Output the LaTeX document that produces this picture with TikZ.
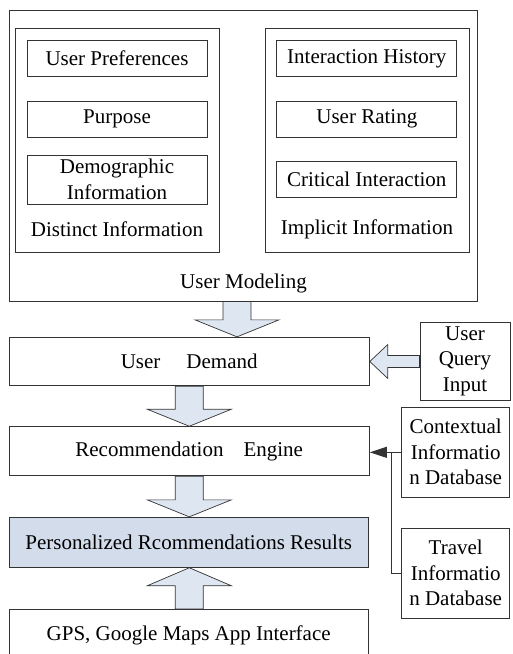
\documentclass[tikz,border=0pt]{standalone}
\usepackage{fontspec}
\setmainfont{Liberation Serif}
\usetikzlibrary{calc,arrows.meta}
\definecolor{linec}{HTML}{333333}
\definecolor{arrfill}{HTML}{DEE6F2}
\definecolor{resfill}{HTML}{D3DCEB}
\newcommand\blkdown[3]{%
  \path[blk] let \p1=(#1), \p2=(#2) in
   ({#3-14},\y1) -- ({#3+14},\y1) -- ({#3+14},\y2+17pt) -- ({#3+42},\y2+17pt)
   -- (#3,\y2) -- ({#3-42},\y2+17pt) -- ({#3-14},\y2+17pt) -- cycle;}
\newcommand\blkup[3]{%
  \path[blk] let \p1=(#1), \p2=(#2) in
   ({#3-14},\y1) -- ({#3+14},\y1) -- ({#3+14},\y2-18pt) -- ({#3+42},\y2-18pt)
   -- (#3,\y2) -- ({#3-42},\y2-18pt) -- ({#3-14},\y2-18pt) -- cycle;}
\newcommand\blkleft[2]{%
  \path[blk] let \p1=(#1), \p2=(#2) in
   (\x1,\y2+6pt) -- (\x2+18pt,\y2+6pt) -- (\x2+18pt,\y2+17pt) -- (\x2,\y2)
   -- (\x2+18pt,\y2-17pt) -- (\x2+18pt,\y2-6pt) -- (\x1,\y2-6pt) -- cycle;}
\begin{document}
\begin{tikzpicture}[x=1pt,y=-1pt,
  every node/.style={font=\fontsize{21}{25.5}\selectfont,inner sep=0pt},
  box/.style={draw=linec,line width=0.9pt,align=center},
  lbl/.style={align=center},
  blk/.style={draw=linec,line width=0.7pt,fill=arrfill},
  conn/.style={draw=linec,line width=0.9pt}]
\useasboundingbox (0,0) rectangle (513,654);
% user modeling
\node[box,minimum width=468.7pt,minimum height=291pt] (um) at (243.3,155.5) {};
\node[lbl] (uml) at (243.5,283) {User Modeling};
\node[box,minimum width=204pt,minimum height=224pt] (dist) at (117,140) {};
\node[lbl] (distl) at (117,229) {Distinct Information};
\node[box,minimum width=204pt,minimum height=224pt] (impl) at (367,140) {};
\node[lbl] (impll) at (367,229) {Implicit Information};
\node[box,minimum width=180pt,minimum height=36pt] (up) at (117,58.7) {User Preferences};
\node[box,minimum width=180pt,minimum height=36pt] (pur) at (117,119) {Purpose};
\node[box,minimum width=180pt,minimum height=49pt] (demo) at (117,179.5) {Demographic\\Information};
\node[box,minimum width=180pt,minimum height=36pt] (ih) at (366.8,58.7) {Interaction History};
\node[box,minimum width=180pt,minimum height=36pt] (ur) at (366.8,119) {User Rating};
\node[box,minimum width=180pt,minimum height=36pt] (ci) at (366.8,179.7) {Critical Interaction};
% main chain
\node[box,minimum width=360.3pt,minimum height=48.4pt] (ud) at (189.2,361.5) {User\hspace{26pt}Demand};
\node[box,minimum width=360.3pt,minimum height=49pt] (re) at (189.2,451.2) {Recommendation\hspace{20pt}Engine};
\node[box,fill=resfill,minimum width=359.3pt,minimum height=50pt] (pr) at (188.7,542.3) {Personalized Rcommendations Results};
\node[box,minimum width=359.3pt,minimum height=51.7pt] (gps) at (188.7,635.2) {GPS, Google Maps App Interface};
% right side
\node[box,minimum width=90pt,minimum height=77.7pt] (uqi) at (465,361.2) {User\\Query\\Input};
\node[box,minimum width=108pt,minimum height=90pt] (ctx) at (455.7,452.3) {Contextual\\Informatio\\n Database};
\node[box,minimum width=108pt,minimum height=90pt] (trv) at (455.7,573.3) {Travel\\Informatio\\n Database};
% block arrows
\blkdown{um.south}{ud.north}{237}
\blkdown{ud.south}{re.north}{189.3}
\blkdown{re.south}{pr.north}{189.3}
\blkup{gps.north}{pr.south}{189.3}
\blkleft{uqi.west}{ud.east}
% database connectors
\coordinate (j) at (391.7,452.3);
\draw[conn,-{Triangle[length=17pt,width=11pt]}] (ctx.west) -- (ctx.west -| re.east);
\draw[conn] (trv.west) -| (j);
\end{tikzpicture}
\end{document}
